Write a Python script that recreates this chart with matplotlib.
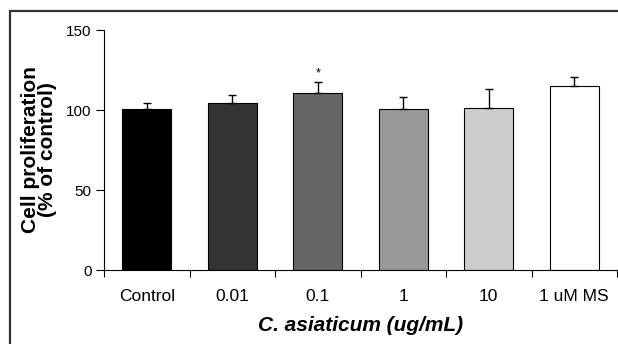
import numpy as np
import matplotlib
matplotlib.use('Agg')
import matplotlib.pyplot as plt
from matplotlib.patches import Rectangle

plt.rcParams['font.family'] = ['Liberation Sans', 'DejaVu Sans']

# data
groups = ['Control', '0.01', '0.1', '1', '10', '1 uM MS']
means = [100.6, 104.2, 110.8, 100.8, 101.3, 114.8]
errs = [3.6, 5.0, 6.7, 7.3, 12.0, 6.0]
signif = ['', '', '*', '', '', '']
colors = ['#000000', '#333333', '#666666', '#999999', '#cccccc', '#ffffff']

fig = plt.figure(figsize=(6.18, 3.44), dpi=100)
ax = fig.add_axes([104 / 618, 1 - 270 / 344, 513 / 618, 240 / 344])

x = np.arange(len(groups))
ax.bar(x, means, width=0.57, color=colors, edgecolor='black', linewidth=0.8, zorder=2)
ax.errorbar(x, means, yerr=[np.zeros(len(errs)), errs], fmt='none',
            ecolor='black', elinewidth=1.0, capsize=3, capthick=1.0, zorder=3)
for xi, m, e, s in zip(x, means, errs, signif):
    if s:
        ax.text(xi, m + e + 1.5, s, ha='center', va='bottom', fontsize=9)

ax.set_xlim(-0.5, len(groups) - 0.5)
ax.set_ylim(0, 150)
ax.set_yticks([0, 50, 100, 150])
ax.set_xticks(x)
ax.set_xticklabels(groups, fontsize=12.5)
ax.set_xticks(np.arange(len(groups) + 1) - 0.5, minor=True)
ax.tick_params(axis='x', which='major', length=0, pad=14)
ax.tick_params(axis='x', which='minor', length=5, width=0.8, direction='out')
ax.tick_params(axis='y', labelsize=11, length=6, width=0.8, direction='out', pad=3)

for side in ['top', 'right']:
    ax.spines[side].set_visible(False)
for side in ['left', 'bottom']:
    ax.spines[side].set_linewidth(0.8)

ax.set_ylabel('Cell proliferation\n(% of control)', fontsize=15, fontweight='bold',
              linespacing=0.85)
ax.yaxis.set_label_coords(-0.092, 0.5)
ax.set_xlabel('C. asiaticum (ug/mL)', fontsize=15, fontweight='bold', style='italic')
ax.xaxis.set_label_coords(0.5, -0.19)

# outer frame, cut off at right and bottom
fig.patches.append(Rectangle((10 / 618, -0.2), 1.2, 1 - 11 / 344 + 0.2,
                             transform=fig.transFigure, fill=False,
                             edgecolor='#333333', linewidth=1.6))

fig.savefig('out.png', dpi=100)
